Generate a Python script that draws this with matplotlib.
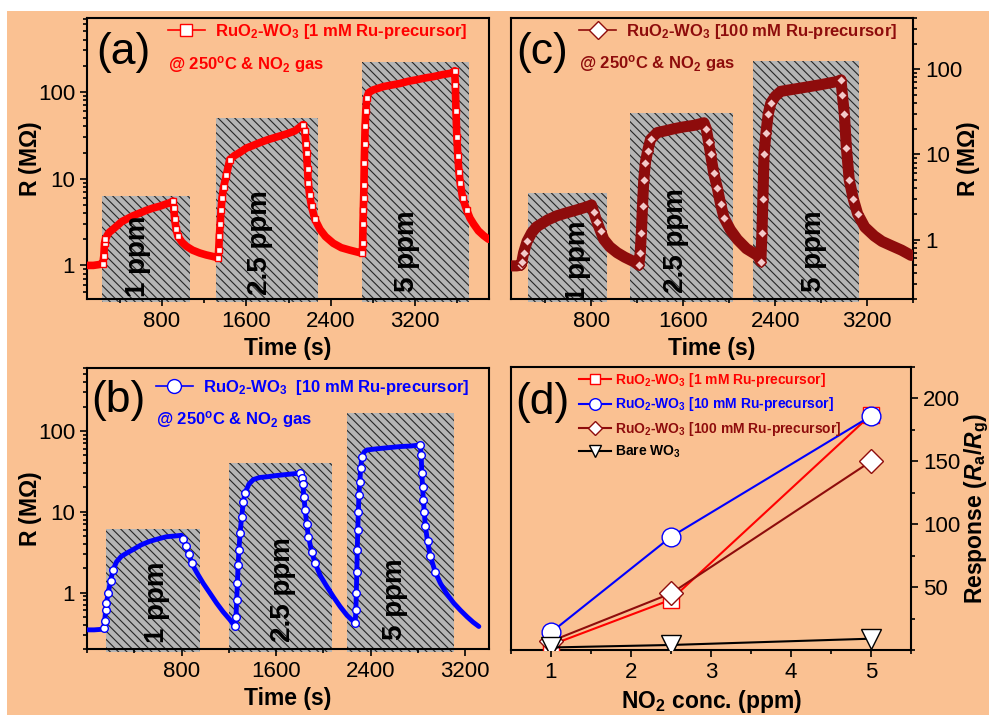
import matplotlib as mpl
mpl.use('Agg')
import matplotlib.pyplot as plt
from matplotlib import ticker
from matplotlib.patches import Rectangle
from matplotlib.lines import Line2D
import numpy as np

plt.rcParams['font.family'] = ['Liberation Sans', 'DejaVu Sans']
plt.rcParams['mathtext.fontset'] = 'custom'
plt.rcParams['mathtext.default'] = 'regular'
plt.rcParams['mathtext.it'] = 'Liberation Sans:italic:bold'
plt.rcParams['hatch.linewidth'] = 0.8
plt.rcParams['axes.linewidth'] = 1.5

PEACH = '#fac192'
RED = '#ff0000'
BLUE = '#0000ff'
BROWN = '#8e0c0c'

# ---- panel (a): 1 mM Ru-precursor, time (s) vs R (MOhm)
t_a = [90, 150, 200, 240, 250, 256, 265, 280, 300, 335, 380, 420, 462, 520, 588, 650, 720, 778,
       840, 880, 905, 912, 921, 935, 952, 990, 1032, 1090, 1158, 1220, 1280, 1332, 1338, 1345,
       1352, 1360, 1370, 1385, 1411, 1443, 1490, 1538, 1600, 1660, 1728, 1800, 1860, 1918, 1990,
       2060, 2139, 2155, 2165, 2171, 2180, 2187, 2200, 2218, 2250, 2298, 2350, 2424, 2500, 2580,
       2677, 2700, 2703, 2706, 2709, 2712, 2715, 2718, 2722, 2726, 2732, 2741, 2760, 2800, 2850,
       2899, 2980, 3057, 3130, 3216, 3300, 3375, 3460, 3549, 3575, 3581, 3587, 3595, 3605, 3615,
       3627, 3650, 3690, 3720, 3754, 3800, 3850, 3896]
r_a = [1.0, 1.0, 1.02, 1.05, 1.3, 1.8, 2.0, 2.2, 2.4, 2.6, 2.9, 3.2, 3.4, 3.7, 4.0, 4.3, 4.6, 4.8,
       5.1, 5.3, 5.5, 4.6, 3.4, 2.6, 2.16, 1.85, 1.66, 1.5, 1.39, 1.32, 1.27, 1.22, 1.5, 2.2,
       3.0, 4.3, 6.0, 8.0, 11, 16.6, 18.5, 20, 22.5, 24, 26, 28, 29.5, 31, 33,
       35.5, 42, 35, 25, 20, 13, 8.9, 6.5, 4.8, 3.4, 2.6, 2.15, 1.8, 1.6, 1.5,
       1.4, 1.38, 1.8, 3.0, 4.3, 6.0, 8.5, 15, 25, 40, 60, 85, 98, 105, 110,
       115, 120, 125, 132, 138, 145, 150, 158, 165, 175, 120, 60, 30, 18, 12,
       9, 6, 4.3, 3.5, 3.0, 2.5, 2.2, 2.0]
gas_on_a = [234, 1317, 2693]
gas_off_a = [1063, 2281, 3706]
shade_top_a = [6.25, 50, 219]

# ---- panel (b): 10 mM Ru-precursor
t_b = [0, 60, 120, 140, 150, 157, 164, 180, 200, 220, 250, 290, 340, 390, 460, 531, 600, 672, 740,
       800, 815, 835, 860, 885, 930, 983, 1040, 1096, 1150, 1209, 1251, 1260, 1266, 1272, 1278,
       1285, 1295, 1308, 1322, 1336, 1370, 1407, 1460, 1520, 1600, 1700, 1802, 1815, 1825, 1835,
       1845, 1858, 1873, 1900, 1929, 1975, 2028, 2085, 2141, 2200, 2268, 2274, 2278, 2282, 2286,
       2290, 2295, 2300, 2307, 2315, 2325, 2345, 2367, 2450, 2550, 2650, 2740, 2819, 2826, 2832,
       2838, 2845, 2852, 2862, 2880, 2904, 2945, 2989, 3045, 3102, 3160, 3215, 3265, 3314]
r_b = [0.345, 0.345, 0.35, 0.36, 0.45, 0.6, 0.74, 1.0, 1.4, 1.9, 2.4, 2.8, 3.1, 3.4, 3.9, 4.3, 4.6, 4.9, 5.0,
       5.1, 4.6, 3.8, 3.0, 2.3, 1.75, 1.3, 0.98, 0.74, 0.58, 0.46, 0.38, 0.5, 0.8, 1.3, 2.2,
       3.4, 5.5, 8.7, 13, 17, 22, 25, 26.5, 27, 28, 29, 30, 26, 22, 15,
       10.6, 7, 4.9, 3.2, 2.3, 1.6, 1.19, 0.88, 0.67, 0.52, 0.42, 0.6, 1.0, 1.8, 3.4,
       6, 10, 16, 23, 35, 48, 55, 58, 60, 62, 64, 65, 67, 50, 30,
       20, 14, 10, 6.6, 4.3, 2.8, 1.8, 1.3, 0.95, 0.74, 0.6, 0.5, 0.43, 0.38]
gas_on_b = [158, 1203, 2203]
gas_off_b = [955, 2071, 3102]
shade_top_b = [6.1, 40, 166]

# ---- panel (c): 100 mM Ru-precursor
t_c = [100, 150, 185, 195, 210, 240, 280, 320, 355, 420, 500, 580, 660, 730, 791, 800, 820, 850,
       880, 908, 960, 1024, 1090, 1169, 1213, 1225, 1235, 1245, 1256, 1270, 1290, 1315, 1373, 1450,
       1518, 1600, 1700, 1780, 1800, 1820, 1838, 1865, 1897, 1925, 1955, 2010, 2071, 2150, 2246,
       2275, 2285, 2293, 2303, 2320, 2340, 2362, 2400, 2449, 2550, 2682, 2800, 2944, 2973, 2985,
       3002, 3020, 3045, 3080, 3118, 3180, 3263, 3330, 3409, 3500, 3584]
r_c = [0.49, 0.49, 0.5, 0.55, 0.7, 0.95, 1.2, 1.4, 1.5, 1.7, 1.9, 2.05, 2.2, 2.35, 2.5, 2.55, 2.1, 1.6,
       1.25, 1.0, 0.82, 0.7, 0.62, 0.55, 0.5, 0.7, 1.2, 2.5, 5, 8, 11, 15, 18, 19,
       20, 21, 22, 23.5, 20, 14, 10, 6, 4, 2.6, 1.8, 1.3, 1.0, 0.78, 0.65,
       0.55, 1.2, 3, 10, 18, 30, 40, 48, 55, 58, 62, 66, 72, 75, 50,
       30, 12, 5, 3, 2, 1.4, 1.1, 0.95, 0.85, 0.75, 0.65]
gas_on_c = [250, 1140, 2205]
gas_off_c = [940, 2030, 3130]
shade_top_c = [3.5, 31, 124]

ppm_labels = ['1 ppm', '2.5 ppm', '5 ppm']

# ---- panel (d): response vs NO2 concentration
conc = [1, 2.5, 5]
resp_1mM = [4, 40, 187]
resp_10mM = [14, 90, 186]
resp_100mM = [7, 45, 150]
resp_bare = [2, 4, 9]

fig = plt.figure(figsize=(9.89, 7.15), dpi=100)
fig.patch.set_facecolor('white')
fig.patches.append(Rectangle((7 / 989, 0), 1, (715 - 11) / 715, transform=fig.transFigure,
                             facecolor=PEACH, edgecolor='none', zorder=-10))

W, H = 989.0, 715.0
def box(l, r, t, b):
    return [l / W, (H - b) / H, (r - l) / W, (b - t) / H]

ax_a = fig.add_axes(box(87, 489, 18, 299))
ax_c = fig.add_axes(box(511, 913, 18, 299))
ax_b = fig.add_axes(box(87, 489, 368, 649))
ax_d = fig.add_axes(box(511, 911, 367, 650))


def style(ax, side):
    ax.set_facecolor('none')
    ax.tick_params(which='both', direction='out', width=1.2, labelsize=16, top=False)
    ax.tick_params(which='major', length=5)
    ax.tick_params(which='minor', length=3)
    if side == 'right':
        ax.yaxis.tick_right()
        ax.yaxis.set_label_position('right')
    else:
        ax.yaxis.tick_left()


def transient(ax, t, r, on, off, tops, xlim, ylim, color, marker, lw, ms, mfc, side,
              lab_x, lab_y, ylab_x):
    ax.set_yscale('log')
    ax.set_xlim(*xlim)
    ax.set_ylim(*ylim)
    for x0, x1, top in zip(on, off, tops):
        rect = Rectangle((x0, ylim[0] * 0.93), x1 - x0, top - ylim[0] * 0.93,
                         facecolor='#b5b5b5', edgecolor='#262626', lw=0, hatch='\\\\\\\\',
                         clip_on=False, zorder=1)
        ax.add_patch(rect)
    # open markers only show up where the signal changes fast
    slope = np.abs(np.gradient(np.log10(r), t))
    steep = [int(i) for i in np.where(slope > 0.003)[0]]
    ax.plot(t, r, '-', color=color, lw=lw, zorder=3, solid_capstyle='round')
    ax.plot(t, r, 'none', marker=marker, ms=ms, mfc=mfc, mec=color, mew=1.0,
            markevery=steep, zorder=4)
    for x, y, lab in zip(lab_x, lab_y, ppm_labels):
        ax.text(x, y, lab, rotation=90, ha='center', va='bottom', fontsize=20,
                fontweight='bold', transform=ax.get_xaxis_transform(), zorder=5, clip_on=True)
    style(ax, side)
    ax.xaxis.set_major_locator(ticker.FixedLocator([800, 1600, 2400, 3200]))
    ax.xaxis.set_minor_locator(ticker.MultipleLocator(400))
    ax.yaxis.set_major_locator(ticker.FixedLocator([1, 10, 100]))
    ax.yaxis.set_major_formatter(ticker.FuncFormatter(lambda v, p: '%g' % v))
    ax.yaxis.set_minor_locator(ticker.LogLocator(subs=np.arange(2, 10)))
    ax.yaxis.set_minor_formatter(ticker.NullFormatter())
    ax.set_xlabel('Time (s)', fontsize=16.5, fontweight='bold', labelpad=4)
    ax.set_ylabel(r'R (M$\Omega$)', fontsize=16.5, fontweight='bold')
    ax.yaxis.label.set_rotation(90)
    ax.yaxis.set_label_coords(ylab_x, 0.5)


transient(ax_a, t_a, r_a, gas_on_a, gas_off_a, shade_top_a, (90, 3900), (0.41, 710),
          RED, 's', 5.5, 5, 'white', 'left', [569, 1728, 3121], [0.008, 0.014, 0.026], -0.108)
transient(ax_b, t_b, r_b, gas_on_b, gas_off_b, shade_top_b, (0, 3400), (0.2, 600),
          BLUE, 'o', 3.5, 5.5, 'white', 'left', [588, 1661, 2608], [0.02, 0.026, 0.032], -0.108)
transient(ax_c, t_c, r_c, gas_on_c, gas_off_c, shade_top_c, (100, 3600), (0.2, 400),
          BROWN, 'D', 8, 5.5, '#f3c9c9', 'right', [680, 1533, 2734], [-0.01, 0.02, 0.026], 1.104)

leg_font = {'weight': 'bold', 'size': 12}


def header(ax, letter, handle, label, color, x, y_leg, y_cond, lx, ly):
    ax.text(lx, ly, letter, transform=ax.transAxes, fontsize=32, va='center', ha='left', zorder=6)
    leg = ax.legend([handle], [label], loc='upper left', bbox_to_anchor=(x, y_leg),
                    frameon=False, prop=leg_font, handlelength=2.2, handletextpad=0.6,
                    borderpad=0, borderaxespad=0, labelcolor=color)
    ax.text(x, y_cond, r'@ 250$^{o}$C & NO$_2$ gas', transform=ax.transAxes, color=color,
            fontsize=12, fontweight='bold', va='center', ha='left')
    return leg


header(ax_a, '(a)', Line2D([], [], color=RED, marker='s', mfc='white', mec=RED, ms=9, lw=1.2),
       r'RuO$_2$-WO$_3$ [1 mM Ru-precursor]', RED, 0.2015, 0.985, 0.833, 0.022, 0.877)
header(ax_b, '(b)', Line2D([], [], color=BLUE, marker='o', mfc='white', mec=BLUE, ms=10, lw=1.2),
       r'RuO$_2$-WO$_3$  [10 mM Ru-precursor]', BLUE, 0.172, 0.965, 0.818, 0.01, 0.883)
header(ax_c, '(c)', Line2D([], [], color=BROWN, marker='D', mfc='white', mec=BROWN, ms=9, lw=1.2),
       r'RuO$_2$-WO$_3$ [100 mM Ru-precursor]', BROWN, 0.17, 0.985, 0.839, 0.012, 0.877)

# ---- panel (d)
ax_d.plot(conc, resp_1mM, '-', color=RED, lw=1.5, marker='s', ms=12, mfc='white', mec=RED,
          label=r'RuO$_2$-WO$_3$ [1 mM Ru-precursor]', zorder=3)
ax_d.plot(conc, resp_100mM, '-', color=BROWN, lw=1.5, marker='D', ms=12, mfc='white', mec=BROWN,
          label=r'RuO$_2$-WO$_3$ [100 mM Ru-precursor]', zorder=4)
ax_d.plot(conc, resp_10mM, '-', color=BLUE, lw=1.5, marker='o', ms=13.5, mfc='white', mec=BLUE,
          label=r'RuO$_2$-WO$_3$ [10 mM Ru-precursor]', zorder=5)
ax_d.plot(conc, resp_bare, '-', color='black', lw=1.5, marker='v', ms=14, mfc='white', mec='black',
          label=r'Bare WO$_3$', zorder=6)
ax_d.set_xlim(0.5, 5.5)
ax_d.set_ylim(0, 225)
style(ax_d, 'right')
ax_d.xaxis.set_major_locator(ticker.FixedLocator([1, 2, 3, 4, 5]))
ax_d.xaxis.set_minor_locator(ticker.MultipleLocator(0.5))
ax_d.yaxis.set_major_locator(ticker.FixedLocator([50, 100, 150, 200]))
ax_d.yaxis.set_minor_locator(ticker.MultipleLocator(25))
ax_d.set_xlabel(r'NO$_2$ conc. (ppm)', fontsize=16.5, fontweight='bold', labelpad=4)
ax_d.set_ylabel(r'Response ($\mathit{R}_a$/$\mathit{R}_g$)', fontsize=16.5, fontweight='bold')
ax_d.yaxis.label.set_rotation(90)
ax_d.yaxis.set_label_coords(1.128, 0.5)
ax_d.text(0.01, 0.875, '(d)', transform=ax_d.transAxes, fontsize=32, va='center', ha='left')
handles, labels = ax_d.get_legend_handles_labels()
order = [0, 2, 1, 3]
ax_d.legend([handles[i] for i in order], [labels[i] for i in order], loc='upper left',
            bbox_to_anchor=(0.169, 0.985), frameon=False, prop={'weight': 'bold', 'size': 10},
            handlelength=2.3, handletextpad=0.3, labelspacing=0.45, borderpad=0,
            borderaxespad=0, labelcolor='linecolor', markerscale=0.62)

plt.savefig('out.png', dpi=100, facecolor=fig.get_facecolor())
